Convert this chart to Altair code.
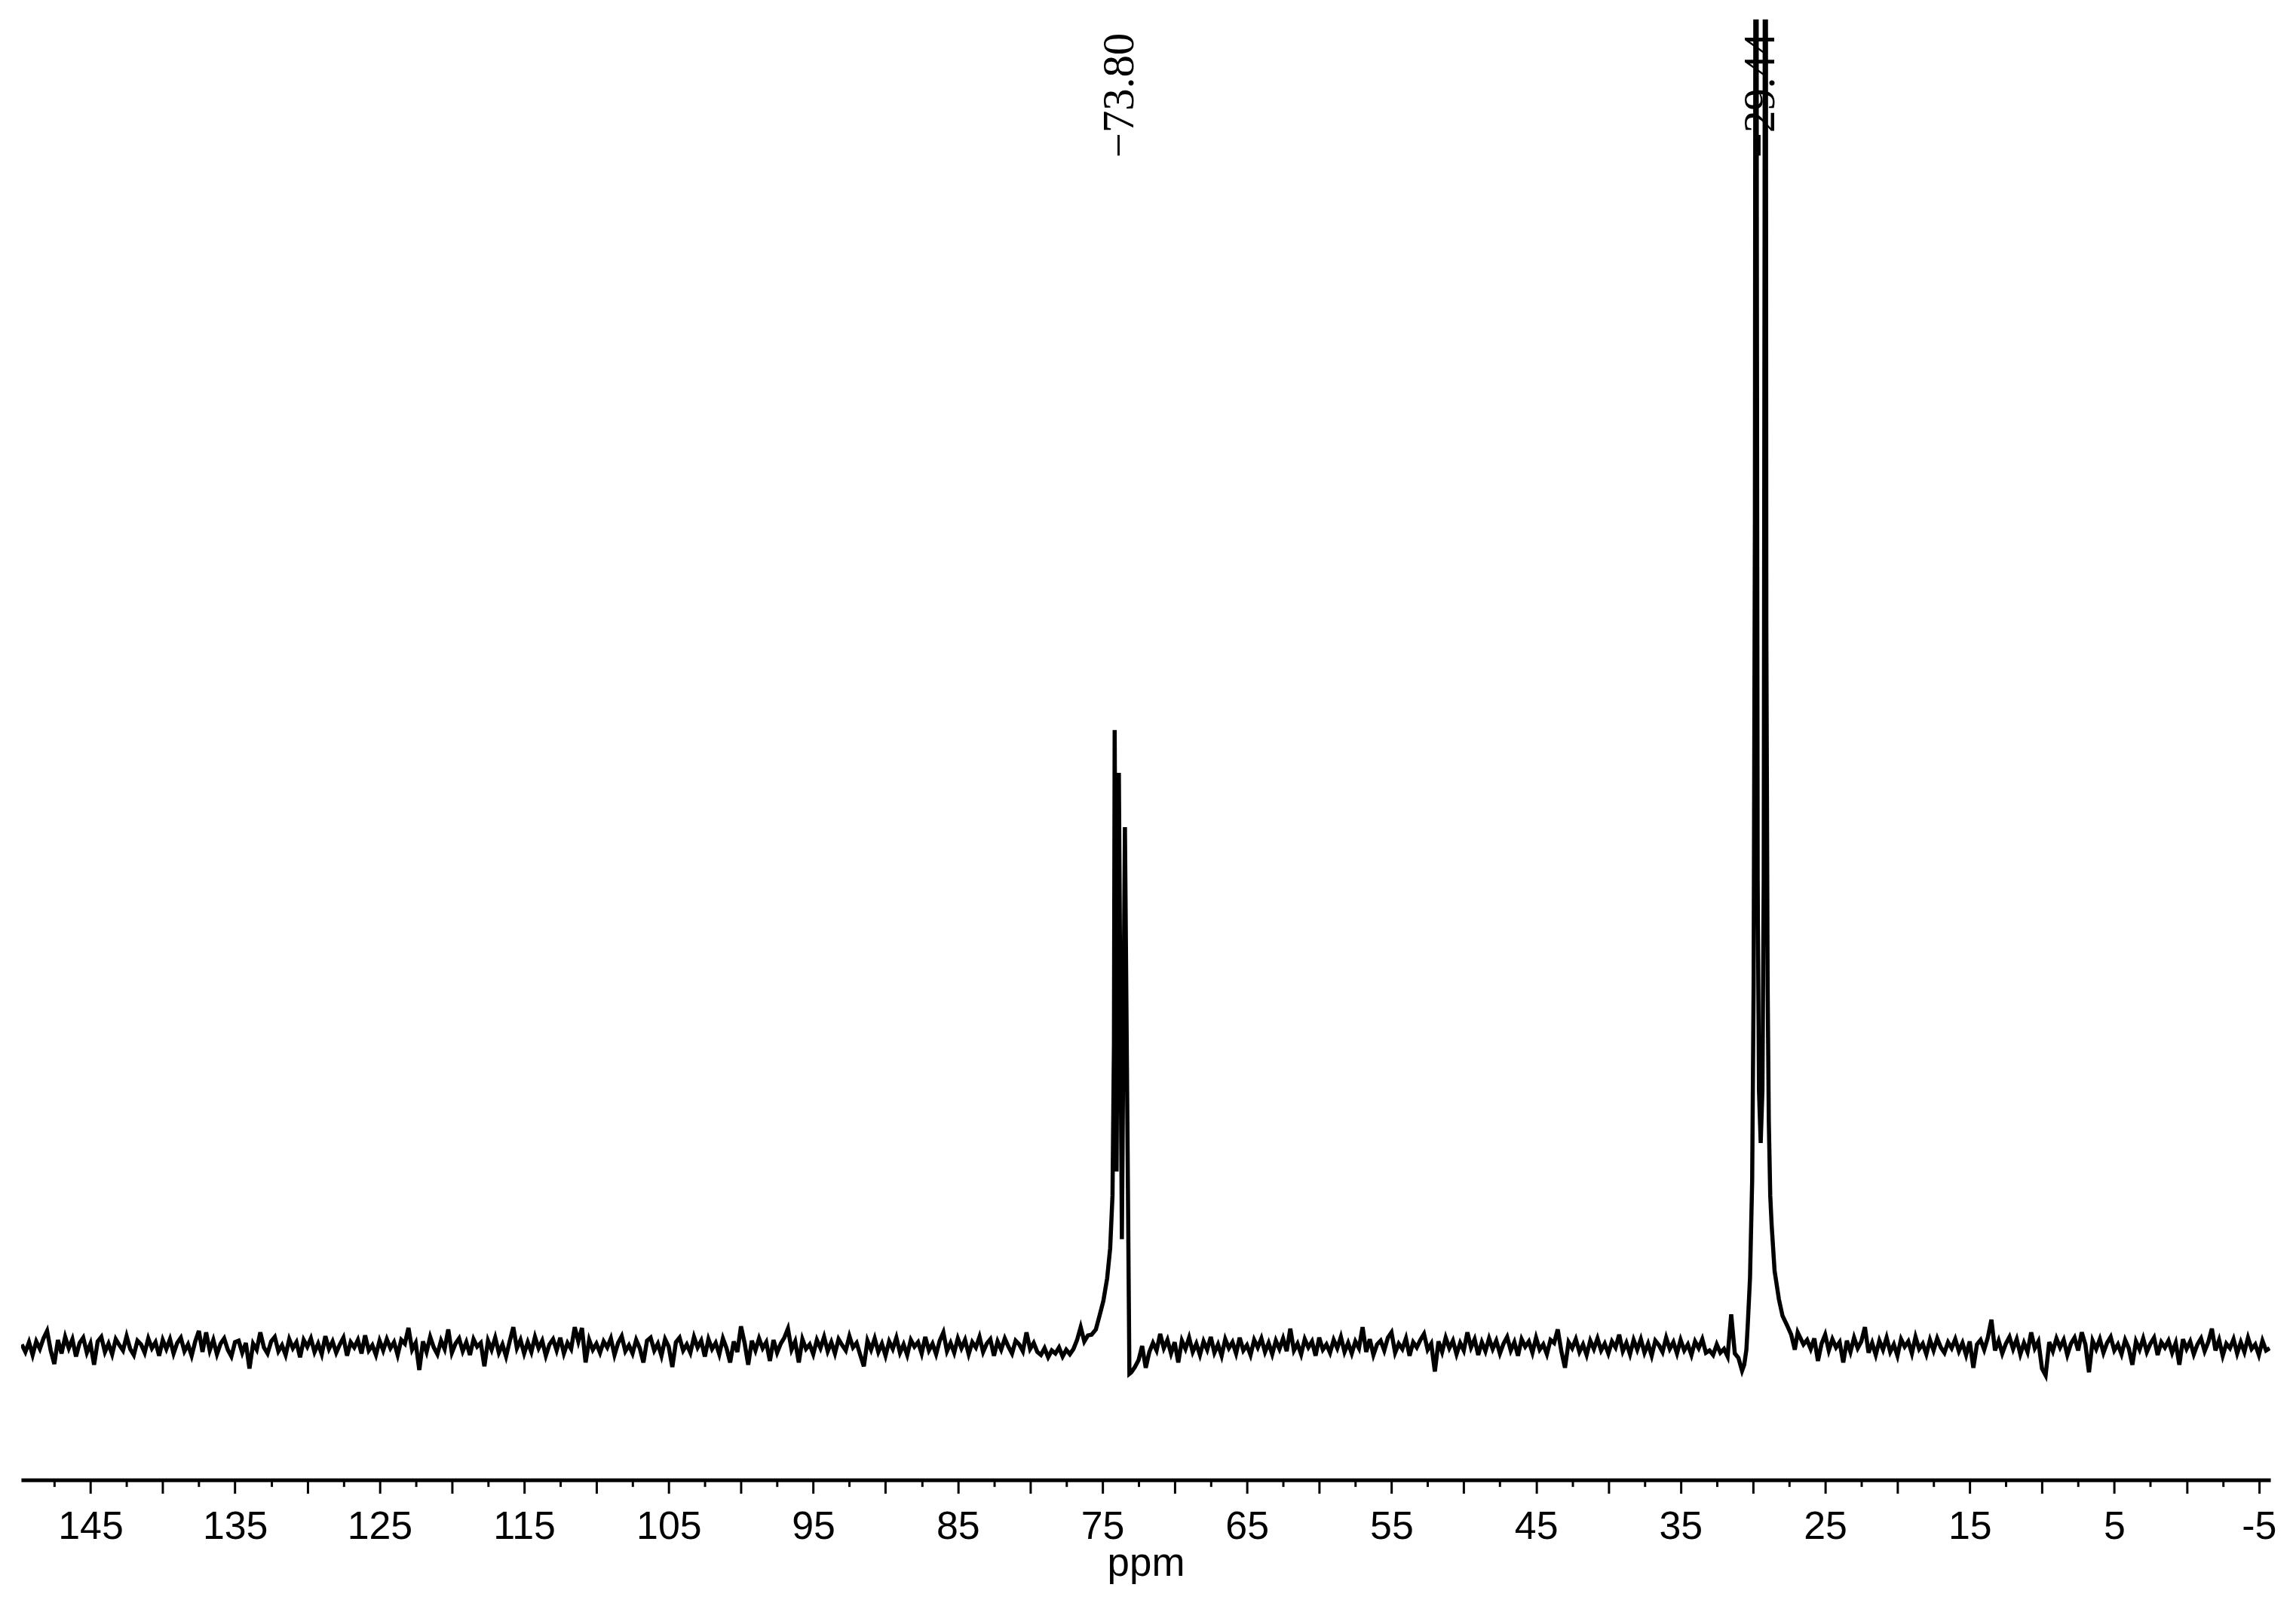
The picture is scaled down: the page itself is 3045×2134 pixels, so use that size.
import altair as alt
import pandas as pd

# ---------------- data ----------------
STEP = 0.25          # ppm spacing of the hand-read baseline samples
ROW_SPAN = 5.0       # each row below covers 5 ppm

# baseline 149.75 -> 75.75 ppm (intensity, arbitrary units; 0 = baseline)
NOISE_A_START = 149.75
NOISE_A_ROWS = [
    [2, -8, 5, -12, 6, -4, 10, 20, -6, -24, 8, -10, 12, -3, 9, -14, 4, 11, -9, 3],
    [-25, 6, 12, -8, 3, -11, 9, 1, -6, 13, -4, -12, 7, 2, -9, 10, -3, 5, -13, 8],
    [-4, 9, -10, 4, 11, -7, 2, -13, 6, 20, -8, 18, -6, 8, -11, 3, 10, -5, -14, 5],
    [7, -9, 4, -30, 3, -5, 18, -2, -10, 6, 12, -7, 1, -12, 9, -3, 5, -15, 8, -1],
    [10, -8, 3, -11, 13, -4, 6, -9, 2, 11, -13, 5, -2, 8, -10, 14, -6, 1, -12, 7],
    [-6, 9, -3, 5, -12, 8, 3, 24, -5, 4, -32, 6, -8, 12, -2, -11, 7, -4, 22, -9],
    [3, 10, -7, 5, -12, 9, -1, 4, -27, 7, -5, 11, -9, 2, -14, 6, 25, -3, 8, -10],
    [5, -8, 12, -3, 7, -13, 2, 9, -6, 11, -10, 4, -4, 25, 6, 24, -22, 8, -5, 3],
    [-9, 6, -2, 10, -12, 4, 13, -7, 1, -10, 8, -3, -22, 7, 11, -6, 3, -13, 9, -1],
    [-28, 5, 11, -6, 2, -9, 12, -2, 7, -14, 9, -4, 4, -11, 10, -3, -22, 6, -8, 26],
    [4, -25, 7, -6, 10, -3, 5, -20, 8, -9, 3, 11, 23, -5, 6, -22, 9, -4, 2, -11],
    [8, -3, 12, -7, 5, -10, 9, 1, -6, 13, -2, 4, -12, -27, 7, -5, 10, -8, 3, -13],
    [6, -4, 11, -9, 2, -12, 8, -1, 5, -10, 12, -6, 3, -11, 7, 18, -7, 4, -9, 10],
    [-3, 8, -11, 5, -2, 12, -8, 3, 9, -13, 6, -5, 10, -1, -10, 7, 2, -7, 18, -4],
    [4, -8, -12, -3, -15, -6, -10, -2, -14, -5, -11, -4, 8, 25, 6, 14, 15],
]

# multiplet around 73.80 ppm
PEAK_B_PPM = [75.45, 75.2, 74.93, 74.67, 74.46, 74.3, 74.2, 74.15, 74.02,
              73.86, 73.65, 73.44, 73.27, 73.13]
PEAK_B_INT = [22, 40, 60, 90, 130, 200, 400, 819, 232, 762, 142, 690, 300, -37]

# baseline 73.0 -> 30.75 ppm
NOISE_C_START = 73.0
NOISE_C_ROWS = [
    [-35, -28, -19, 0, -29, -8, 4, -6, 16, -3, 8, -10, 5, -22, 7, -4, 11, -8, 3, -12],
    [6, -5, 12, -9, 2, -13, 9, -3, 5, -10, 11, -6, 1, -12, 8, -2, 10, -8, 4, -11],
    [7, -4, 10, -7, 23, -6, 3, -11, 9, -2, 6, -13, 11, -5, 2, -9, 8, -3, 12, -8],
    [4, -10, 6, -3, 25, -8, 9, -12, 2, 7, -6, 11, 18, -9, 3, -4, 10, -13, 5, -2],
    [8, 16, -5, 3, -34, 6, -8, 11, -3, 7, -11, 4, -6, 18, -2, 9, -12, 5, -7, 10],
    [-4, 7, -10, 3, 12, -6, 5, -13, 9, -1, 6, -9, 11, -5, 2, -11, 8, 4, 22, -7],
    [-29, 5, -3, 9, -8, 2, -12, 7, -4, 10, -6, 3, -10, 6, -2, 15, -7, 4, -11, 8],
    [-5, 9, -9, 3, -13, 7, 1, -8, 11, -4, 5, -10, 8, -6, 2, -12, 6, -3, 9, -9],
    [-6, -12, 2, -9, -4, -14, 42, -10, -16, -33],
]

# strong signal at 29.44 ppm (two lines, both off scale)
PEAK_D_PPM = [30.6, 30.45, 30.35, 30.2, 30.05, 29.95, 29.86, 29.78, 29.73,
              29.67, 29.58, 29.46, 29.34, 29.25, 29.19, 29.14, 29.07, 28.98,
              28.9, 28.8, 28.7, 28.5, 28.2, 27.95, 27.65, 27.35, 27.1, 26.9,
              26.5]
PEAK_D_INT = [-25, -5, 30, 90, 220, 480, 1100, 3000, 1500, 620, 340, 270,
              340, 620, 1500, 3000, 950, 480, 300, 200, 160, 100, 62, 40, 28,
              15, -5, 18, 2]

# baseline 26.25 -> -5.75 ppm
NOISE_E_START = 26.25
NOISE_E_ROWS = [
    [8, -4, 10, -20, 3, 15, -6, 9, -2, 5, -22, 7, -8, 11, -3, 6, 25, -9, 4, -12],
    [7, -5, 11, -8, 2, -13, 9, -1, 6, -10, 12, -4, 3, -11, 8, -6, 10, -2, -9, 5],
    [-3, 9, -7, 4, -12, 6, -29, 2, 8, -5, 11, 35, -6, 7, -10, 3, 12, -4, 9, -11],
    [4, -8, 18, -3, 6, -30, -39, 5, -7, 10, -2, 8, -12, 3, 11, -6, 18, 2, -35, 7],
    [-4, 9, -9, 4, 12, -6, 2, -11, 8, -3, -25, 6, -5, 10, -8, 3, 11, -12, 5, -2],
    [7, -9, 4, -25, 9, -4, 6, -11, 2, 10, -7, 5, 23, -6, 8, -13, 3, -3, 9, -10],
    [5, -8, 11, -4, 2, -12, 7, -6, -3],
]

PEAK_LABEL_PPM = [73.80, 29.44]
PEAK_LABEL_TEXT = ["\u221273.80", "\u221229.44"]

MAJOR_TICKS = [145 - 5 * k for k in range(31)]          # 145 ... -5
MINOR_TICKS = [147.5 - 5 * k for k in range(31)]        # 147.5 ... -2.5
X_DOMAIN = [-5.8, 149.8]
Y_DOMAIN = [-178, 1764]


def rows_to_points(start, rows):
    ppm, inten = [], []
    for k, row in enumerate(rows):
        s = start - ROW_SPAN * k
        for i, v in enumerate(row):
            ppm.append(round(s - STEP * i, 3))
            inten.append(v)
    return ppm, inten


ppm_all, int_all = [], []
for part in (rows_to_points(NOISE_A_START, NOISE_A_ROWS),
             (PEAK_B_PPM, PEAK_B_INT),
             rows_to_points(NOISE_C_START, NOISE_C_ROWS),
             (PEAK_D_PPM, PEAK_D_INT),
             rows_to_points(NOISE_E_START, NOISE_E_ROWS)):
    ppm_all += list(part[0])
    int_all += list(part[1])

spec_df = pd.DataFrame({"ppm": ppm_all, "intensity": int_all})
label_df = pd.DataFrame({"ppm": PEAK_LABEL_PPM, "text": PEAK_LABEL_TEXT})

x_scale = alt.Scale(domain=X_DOMAIN, reverse=True, nice=False, zero=False)
y_scale = alt.Scale(domain=Y_DOMAIN, nice=False, zero=False)

major_axis = alt.Axis(
    orient="bottom",
    values=MAJOR_TICKS,
    labelExpr="abs(datum.value % 10) == 5 ? '' + datum.value : ''",
    tickSize=18, tickWidth=3, tickColor="black",
    domainWidth=5, domainColor="black",
    labelFont="Liberation Sans", labelFontSize=52, labelColor="black",
    labelPadding=19, labelOverlap=False, labelFlush=False,
    title="ppm", titleFont="Liberation Sans", titleFontSize=53,
    titleFontWeight="normal", titleColor="black",
    titleBaseline="alphabetic", titleY=127,
    grid=False,
)
minor_axis = alt.Axis(
    orient="bottom",
    values=MINOR_TICKS, tickSize=9, tickWidth=3, tickColor="black",
    labels=False, domain=False, title=None, grid=False,
)

line = alt.Chart(spec_df).mark_line(
    color="black", strokeWidth=5.5, clip=True, strokeJoin="miter"
).encode(
    x=alt.X("ppm:Q", scale=x_scale, axis=major_axis),
    y=alt.Y("intensity:Q", scale=y_scale, axis=None),
)

labels = alt.Chart(label_df).mark_text(
    angle=270, align="left", baseline="middle",
    font="Liberation Serif", fontSize=59, color="black",
).encode(
    x=alt.X("ppm:Q", scale=x_scale, axis=minor_axis),
    y=alt.value(184),
    text="text:N",
)

chart = alt.layer(line, labels).resolve_axis(x="independent").properties(
    width=2991, height=1942,
    autosize=alt.AutoSizeParams(type="none"),
    padding={"left": 20, "top": 15, "right": 26, "bottom": 169},
    background="white",
).configure_view(stroke=None)

chart.save("out.html", embed_options={"renderer": "svg", "actions": False})
